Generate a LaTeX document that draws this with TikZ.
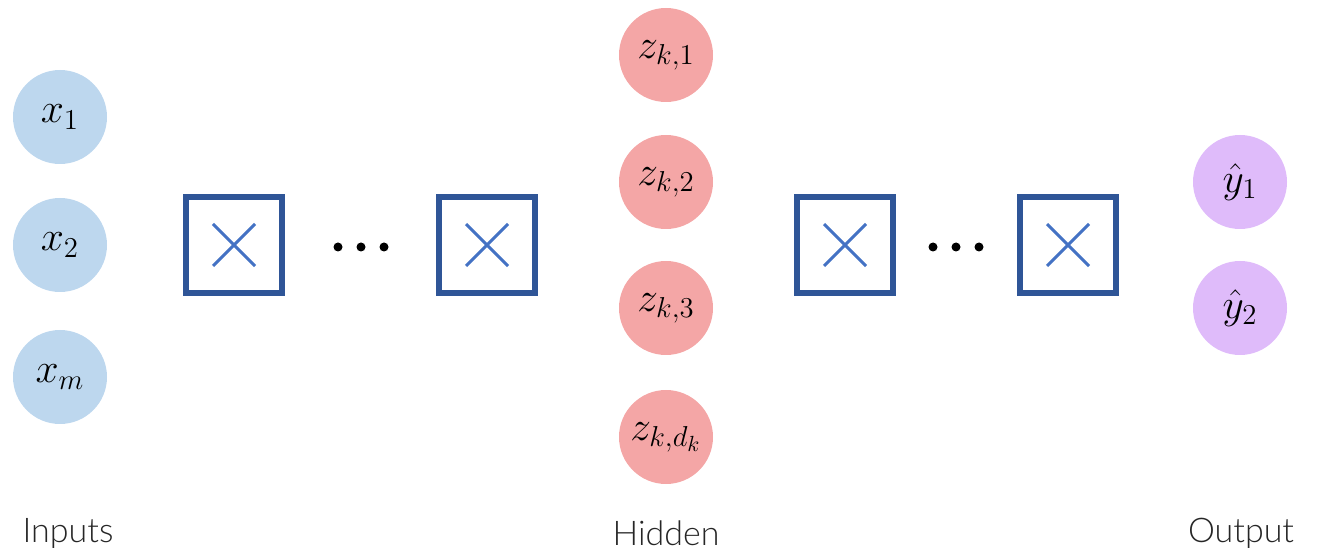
\documentclass[tikz,border=0pt]{standalone}
\usepackage{fontspec}
\newfontfamily\labelfont{Lato}[UprightFont={* Light}]
\definecolor{inblue}{RGB}{189,215,238}
\definecolor{hidred}{RGB}{244,166,166}
\definecolor{outpurple}{RGB}{223,187,250}
\definecolor{boxblue}{RGB}{47,85,151}
\definecolor{crossblue}{RGB}{68,114,196}
\tikzset{
  unit/.style={circle, minimum size=47pt, inner sep=0pt, font=\fontsize{22}{24}\selectfont},
  inunit/.style={unit, fill=inblue},
  hidunit/.style={unit, fill=hidred},
  outunit/.style={unit, fill=outpurple},
  layerbox/.style={rectangle, draw=boxblue, line width=3pt, minimum size=48pt, inner sep=0pt,
    path picture={
      \draw[crossblue, line width=1.5pt]
        ([shift={(-10.5pt,-10.5pt)}]path picture bounding box.center) --
        ([shift={(10.5pt,10.5pt)}]path picture bounding box.center)
        ([shift={(-10.5pt,10.5pt)}]path picture bounding box.center) --
        ([shift={(10.5pt,-10.5pt)}]path picture bounding box.center);
    }},
  dot/.style={circle, fill=black, minimum size=4.5pt, inner sep=0pt},
  caption/.style={font=\labelfont\fontsize{17}{20}\selectfont, text=black!85}
}
\begin{document}
\begin{tikzpicture}[x=0.5pt, y=-0.5pt]
  \useasboundingbox (0,0) rectangle (1322,555);
  % input layer
  \node[inunit] (x1) at (60,117) {$x_1$};
  \node[inunit] (x2) at (60,245) {$x_2$};
  \node[inunit] (xm) at (60,377) {$x_m$};
  % first block of layers
  \node[layerbox] (b1) at (234,245) {};
  \node[dot] (d1) at (338,247) {};
  \node[dot] (d2) at (361,247) {};
  \node[dot] (d3) at (384,247) {};
  \node[layerbox] (b2) at (487,245) {};
  % hidden representation
  \node[hidunit] (z1) at (666,55) {$z_{k,1}$};
  \node[hidunit] (z2) at (666,182) {$z_{k,2}$};
  \node[hidunit] (z3) at (666,308) {$z_{k,3}$};
  \node[hidunit] (zd) at (666,437) {$z_{k,d_k}$};
  % second block of layers
  \node[layerbox] (b3) at (845,245) {};
  \node[dot] (e1) at (933,247) {};
  \node[dot] (e2) at (956,247) {};
  \node[dot] (e3) at (979,247) {};
  \node[layerbox] (b4) at (1068,245) {};
  % output layer
  \node[outunit] (y1) at (1240,182) {$\hat{y}_1$};
  \node[outunit] (y2) at (1240,308) {$\hat{y}_2$};
  % captions
  \node[caption] (lin) at (68,533) {Inputs};
  \node[caption] (lhid) at (666,533) {Hidden};
  \node[caption] (lout) at (1241,533) {Output};
\end{tikzpicture}
\end{document}
